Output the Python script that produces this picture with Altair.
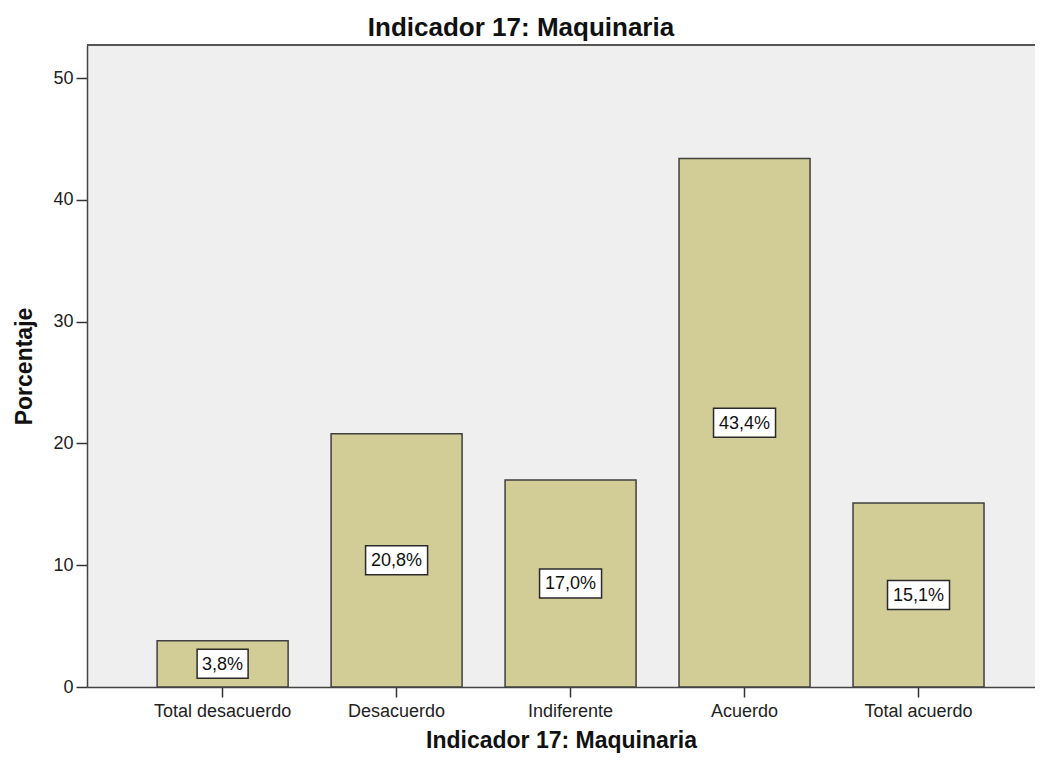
import altair as alt
import pandas as pd

categories = ["Total desacuerdo", "Desacuerdo", "Indiferente", "Acuerdo", "Total acuerdo"]
values = [3.8, 20.8, 17.0, 43.4, 15.1]
labels = ["3,8%", "20,8%", "17,0%", "43,4%", "15,1%"]
y_ticks = [0, 10, 20, 30, 40, 50]

df = pd.DataFrame({"cat": categories, "val": values, "lbl": labels})

FONT = "Liberation Sans"
W, H = 948, 642
YMAX = 52.71

x_scale = alt.Scale(domain=categories, paddingInner=0.247, paddingOuter=0.348, align=0.579)
y_scale = alt.Scale(domain=[0, YMAX], nice=False, zero=True)

base = alt.Chart(df)

bars = base.mark_bar(color="#D2CC96", stroke="#404040", strokeWidth=1.5).encode(
    x=alt.X("cat:N", scale=x_scale, sort=categories,
            axis=alt.Axis(title="Indicador 17: Maquinaria", labelAngle=0, labelFontSize=18,
                          labelFont=FONT, labelColor="#222", labelPadding=5,
                          tickSize=10, tickColor="#333", tickWidth=1.5,
                          domainColor="#444", domainWidth=1.5,
                          titleFont=FONT, titleFontSize=23, titleFontWeight="bold",
                          titleColor="#111", titlePadding=9)),
    y=alt.Y("val:Q", scale=y_scale,
            axis=alt.Axis(title="Porcentaje", values=y_ticks, grid=False, labelFontSize=18,
                          labelFont=FONT, labelColor="#222", labelPadding=3,
                          tickSize=11, tickColor="#333", tickWidth=1.5,
                          domainColor="#444", domainWidth=1.5,
                          titleFont=FONT, titleFontSize=23, titleFontWeight="bold",
                          titleColor="#111", titleX=-63, titleBaseline="middle")),
)

boxes = base.transform_calculate(
    mid="datum.val / 2",
    bw="datum.lbl.length > 4 ? 62 : 51",
    shp="'M-1,-' + (14.5 / ((datum.lbl.length > 4 ? 62 : 51) / 2)) + 'H1V' + (14.5 / ((datum.lbl.length > 4 ? 62 : 51) / 2)) + 'H-1Z'",
    sz="datum.bw * datum.bw",
).mark_point(filled=True, fill="white", stroke="#2a2a2a", strokeWidth=1.5, opacity=1).encode(
    x=alt.X("cat:N", scale=x_scale, sort=categories),
    y=alt.Y("mid:Q", scale=y_scale),
    shape=alt.Shape("shp:N", scale=None, legend=None),
    size=alt.Size("sz:Q", scale=None, legend=None),
)

texts = base.transform_calculate(mid="datum.val / 2").mark_text(
    font=FONT, fontSize=18, color="#111", baseline="middle", align="center", dy=1
).encode(
    x=alt.X("cat:N", scale=x_scale, sort=categories),
    y=alt.Y("mid:Q", scale=y_scale),
    text="lbl:N",
)

top_rule = base.mark_rule(color="#555", strokeWidth=2).encode(
    x=alt.value(0), x2=alt.value(W), y=alt.value(0)
)

chart = alt.layer(bars, boxes, texts, top_rule).properties(
    width=W, height=H,
    background="white",
    title=alt.TitleParams("Indicador 17: Maquinaria", font=FONT, fontSize=26, fontWeight="bold",
                          color="#111", anchor="middle", dx=-40, offset=3),
    autosize=alt.AutoSizeParams(type="none"),
    padding={"left": 79, "top": 37, "right": 0, "bottom": 67},
).configure_view(fill="#EFEFEF", strokeWidth=0)

chart.save("out.html", embed_options={"renderer": "svg", "actions": False})
